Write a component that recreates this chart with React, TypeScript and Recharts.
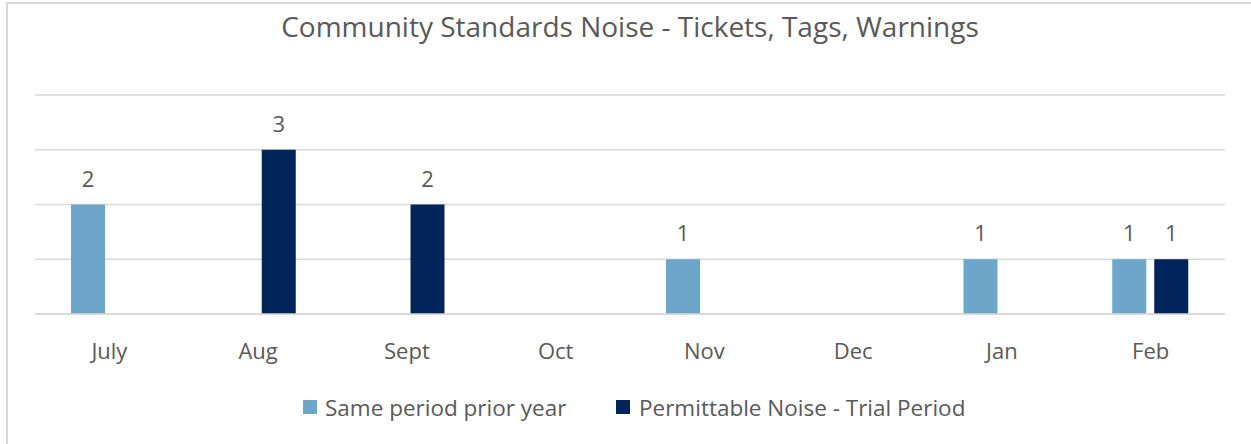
import { BarChart, Bar, XAxis, YAxis, CartesianGrid, LabelList } from "recharts";

const months = ["July", "Aug", "Sept", "Oct", "Nov", "Dec", "Jan", "Feb"];
const priorYear = [2, null, null, null, 1, null, 1, 1];
const trialPeriod = [null, 3, 2, null, null, null, null, 1];
const yTicks = [0, 1, 2, 3, 4];

const data = months.map((m, i) => ({ month: m, prior: priorYear[i], trial: trialPeriod[i] }));

const LIGHT = "#6CA6C8";
const DARK = "#00255A";
const TEXT = "#595959";
const GRID = "#d9d9d9";
const FONT = "'Open Sans', sans-serif";

export default function App() {
  return (
    <div
      style={{
        position: "absolute", left: 0, top: 0, width: 1251, height: 444,
        overflow: "hidden", background: "#fff", fontFamily: FONT,
      }}
    >
      <div
        style={{
          position: "absolute", left: 6, top: 2, width: 1400, height: 600,
          borderTop: `2px solid ${GRID}`, borderLeft: `2px solid ${GRID}`,
        }}
      />
      <div
        style={{
          position: "absolute", left: 0, width: 1260, top: 10, textAlign: "center",
          fontSize: 28, color: TEXT, lineHeight: "32px", whiteSpace: "nowrap",
        }}
      >
        Community Standards Noise - Tickets, Tags, Warnings
      </div>
      <div style={{ position: "absolute", left: 0, top: 0 }}>
        <BarChart
          width={1251}
          height={444}
          data={data}
          margin={{ top: 95, right: 26, bottom: 100, left: 35 }}
          barSize={34}
          barGap={8}
        >
          <CartesianGrid horizontal vertical={false} stroke={GRID} strokeWidth={1.5} />
          <YAxis hide domain={[0, 4]} ticks={yTicks} />
          <XAxis
            dataKey="month"
            height={30}
            axisLine={{ stroke: GRID, strokeWidth: 1.5 }}
            tickLine={false}
            tickSize={0}
            tickMargin={29}
            tick={{ fill: TEXT, fontSize: 22, fontFamily: FONT }}
          />
          <Bar dataKey="prior" fill={LIGHT} isAnimationActive={false}>
            <LabelList dataKey="prior" position="top" offset={18} fill={TEXT} fontSize={22} fontFamily={FONT} />
          </Bar>
          <Bar dataKey="trial" fill={DARK} isAnimationActive={false}>
            <LabelList dataKey="trial" position="top" offset={18} fill={TEXT} fontSize={22} fontFamily={FONT} />
          </Bar>
        </BarChart>
      </div>
      <div style={{ position: "absolute", left: 303, top: 395, height: 24, display: "flex", alignItems: "center", fontSize: 22.5, color: TEXT, whiteSpace: "nowrap" }}>
        <span style={{ width: 14, height: 14, background: LIGHT, marginRight: 8 }} />
        <span>Same period prior year</span>
      </div>
      <div style={{ position: "absolute", left: 616, top: 395, height: 24, display: "flex", alignItems: "center", fontSize: 22.5, color: TEXT, whiteSpace: "nowrap" }}>
        <span style={{ width: 14, height: 14, background: DARK, marginRight: 9 }} />
        <span>Permittable Noise - Trial Period</span>
      </div>
    </div>
  );
}
